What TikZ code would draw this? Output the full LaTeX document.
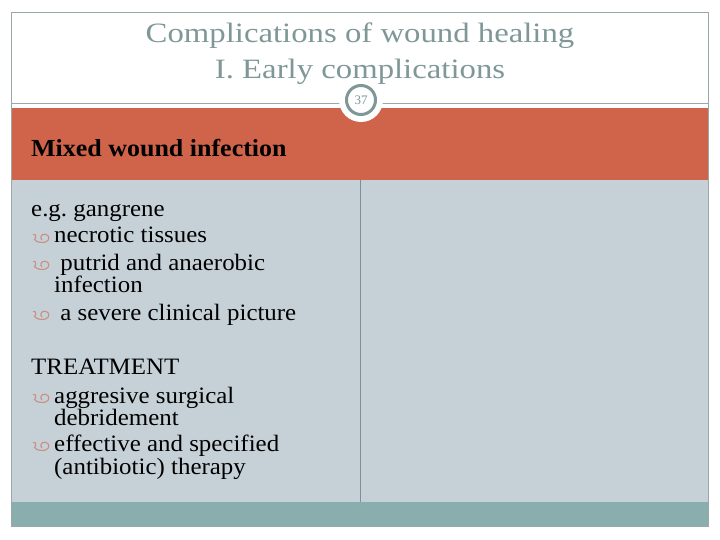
\documentclass[tikz,border=0pt]{standalone}
\usepackage{fontspec}
\setmainfont{Liberation Serif}
\newfontfamily\titlefont[FakeStretch=1.17]{Liberation Serif}
\newfontfamily\bodyfont[FakeStretch=1.06]{Liberation Serif}
\frenchspacing
\definecolor{titlegray}{HTML}{7F9797}
\definecolor{bandorange}{HTML}{CF644A}
\definecolor{bodyblue}{HTML}{C6D1D7}
\definecolor{footteal}{HTML}{8AADAD}
\definecolor{framegray}{HTML}{9AA8A8}
\definecolor{divider}{HTML}{7E8EA0}
\definecolor{bulletcol}{HTML}{C98F80}
\begin{document}
\begin{tikzpicture}[x=1pt,y=-1pt,
  titletext/.style={text=titlegray,font=\titlefont\fontsize{28}{32}\selectfont,inner sep=0pt,anchor=base},
  bodytext/.style={font=\bodyfont\fontsize{23.5}{26}\selectfont,inner sep=0pt,anchor=base west,text=black},
  curl/.pic={\draw[bulletcol,line width=1.1pt,line cap=round]
     (0.5,-8.5) .. controls (3,-9.5) and (3.5,-5.5) .. (1.5,-3.5)
     .. controls (4,-0.5) and (9,0) .. (12.5,-1)
     .. controls (17,-2) and (17,-8.5) .. (12,-8.8)
     .. controls (8,-9) and (6.5,-5) .. (9,-3);}]
\useasboundingbox (0,0) rectangle (720,540);
\fill[white] (0,0) rectangle (720,540);
% title rule
\draw[framegray,line width=0.8pt] (11,103) -- (708,103);
% orange band
\fill[bandorange] (11,108) rectangle (708,180);
% body
\fill[bodyblue] (11,180) rectangle (708,502);
\draw[divider,line width=0.8pt] (360,180) -- (360,502);
% footer
\fill[footteal] (11,502) rectangle (708,526);
% frame
\draw[framegray,line width=0.8pt] (11,12) rectangle (708,526);
% page number circle
\fill[white] (361,100) circle (22);
\draw[titlegray,line width=3pt] (361,100) circle (14.5);
\node[text=titlegray,font=\fontsize{13}{13}\selectfont,inner sep=0pt] (num) at (361,100.5) {37};
% titles
\node[titletext] (t1) at (360,43) {Complications of wound healing};
\node[titletext] (t2) at (360,79) {I. Early complications};
% header
\node[bodytext,font=\bfseries\bodyfont\fontsize{24.5}{27}\selectfont] (hdr) at (31,157) {Mixed wound infection};
% body text
\node[bodytext] (eg) at (31,216) {e.g. gangrene};
\pic at (33,243) {curl};
\node[bodytext] (l1) at (54,243) {necrotic tissues};
\pic at (33,270) {curl};
\node[bodytext] (l2) at (54,270) {\ putrid and anaerobic};
\node[bodytext] (l2b) at (54,292) {infection};
\pic at (33,320) {curl};
\node[bodytext] (l3) at (54,320) {\ a severe clinical picture};
\node[bodytext] (tr) at (31,374) {TREATMENT};
\pic at (33,403) {curl};
\node[bodytext] (l4) at (54,403) {aggresive surgical};
\node[bodytext] (l4b) at (54,425) {debridement};
\pic at (33,451) {curl};
\node[bodytext] (l5) at (54,451) {effective and specified};
\node[bodytext] (l5b) at (54,474) {(antibiotic) therapy};
\end{tikzpicture}
\end{document}
